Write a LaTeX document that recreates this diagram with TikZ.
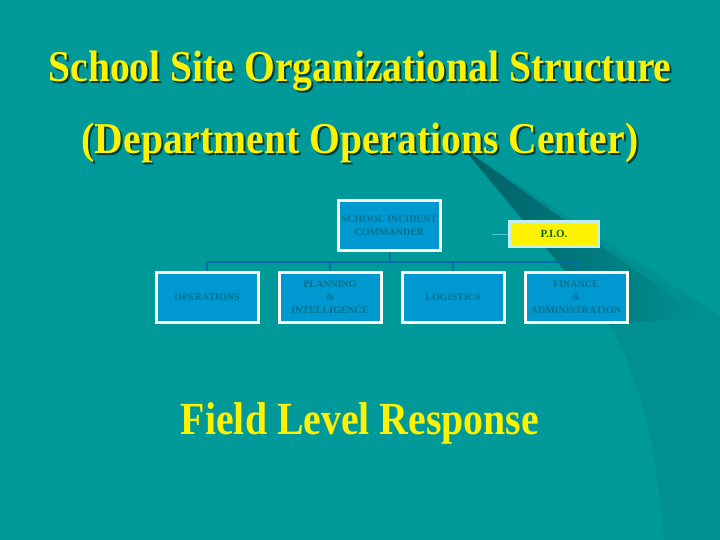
\documentclass[tikz,border=0pt]{standalone}
\usepackage{fontspec}
\setmainfont{Liberation Serif}
\usetikzlibrary{positioning}

\definecolor{slidebg}{RGB}{0,153,153}
\definecolor{swoosh}{RGB}{0,144,145}
\definecolor{swooshmid}{RGB}{0,118,123}
\definecolor{swooshdark}{RGB}{0,96,102}
\definecolor{boxblue}{RGB}{0,152,208}
\definecolor{boxtext}{RGB}{0,112,140}
\definecolor{busline}{RGB}{0,108,168}
\definecolor{pioedge}{RGB}{196,238,240}
\definecolor{pioline}{RGB}{80,200,210}
\definecolor{piotext}{RGB}{0,100,50}
\definecolor{titleshadow}{RGB}{0,62,64}

\tikzset{
  unitbox/.style={draw=white, line width=3pt, fill=boxblue, minimum width=102pt,
    minimum height=50pt, align=center, text=boxtext, inner sep=1pt,
    font=\fontsize{10}{13}\selectfont\bfseries},
  title/.style={text=yellow, font=\fontsize{44}{50}\selectfont\bfseries},
}

\begin{document}
\begin{tikzpicture}[x=1pt, y=1pt, node distance=18pt]
\fill[slidebg] (0,0) rectangle (720,-540);
\useasboundingbox (0,0) rectangle (720,-540);
% background swoosh
\fill[swoosh] (463,-148) -- (720,-316) -- (720,-540) -- (664,-540)
  .. controls (655,-440) and (640,-380) .. (610,-325) -- cycle;
\shade[left color=swooshdark, middle color=swooshmid, right color=swoosh]
  (463,-148) -- (700,-316) -- (610,-325) -- cycle;

% titles
\node (title1s) [title, text=titleshadow] at (362,-73)
  {\scalebox{0.9}[1]{School Site Organizational Structure}};
\node (title1) [title] at (360,-71)
  {\scalebox{0.9}[1]{School Site Organizational Structure}};
\node (title2s) [title, text=titleshadow] at (362,-145)
  {\scalebox{0.9}[1]{(Department Operations Center)}};
\node (title2) [title] at (360,-143)
  {\scalebox{0.9}[1]{(Department Operations Center)}};

% chart
\node (sic) [unitbox] at (389.5,-225.5) {SCHOOL INCIDENT\\COMMANDER};
\node (pio) [draw=pioedge, line width=3pt, fill=yellow, minimum width=89pt,
  minimum height=25pt, text=piotext, font=\fontsize{11}{12}\selectfont\bfseries]
  at (554,-234) {P.I.O.};
\node (ops) [unitbox] at (207,-297.5) {OPERATIONS};
\node (plan) [unitbox, right=of ops] {PLANNING\\\&\\INTELLIGENCE};
\node (log) [unitbox, right=of plan] {LOGISTICS};
\node (fin) [unitbox, right=of log] {FINANCE\\\&\\ADMINISTRATION};

\coordinate (bus) at (0,-262);
\coordinate (pioend) at (492,-234);
\draw[busline, line width=2pt] (ops.north |- bus) -- (fin.north |- bus);
\draw[busline, line width=2pt] (sic.south) -- (sic.south |- bus);
\foreach \n in {ops, plan, log, fin}
  \draw[busline, line width=2pt] (\n.north) -- (\n.north |- bus);
\draw[pioline, line width=1pt] (pioend) -- (pio.west);

\node (field) [text=yellow, font=\fontsize{46}{50}\selectfont\bfseries] at (360,-423)
  {\scalebox{0.865}[1]{Field Level Response}};
\end{tikzpicture}
\end{document}
